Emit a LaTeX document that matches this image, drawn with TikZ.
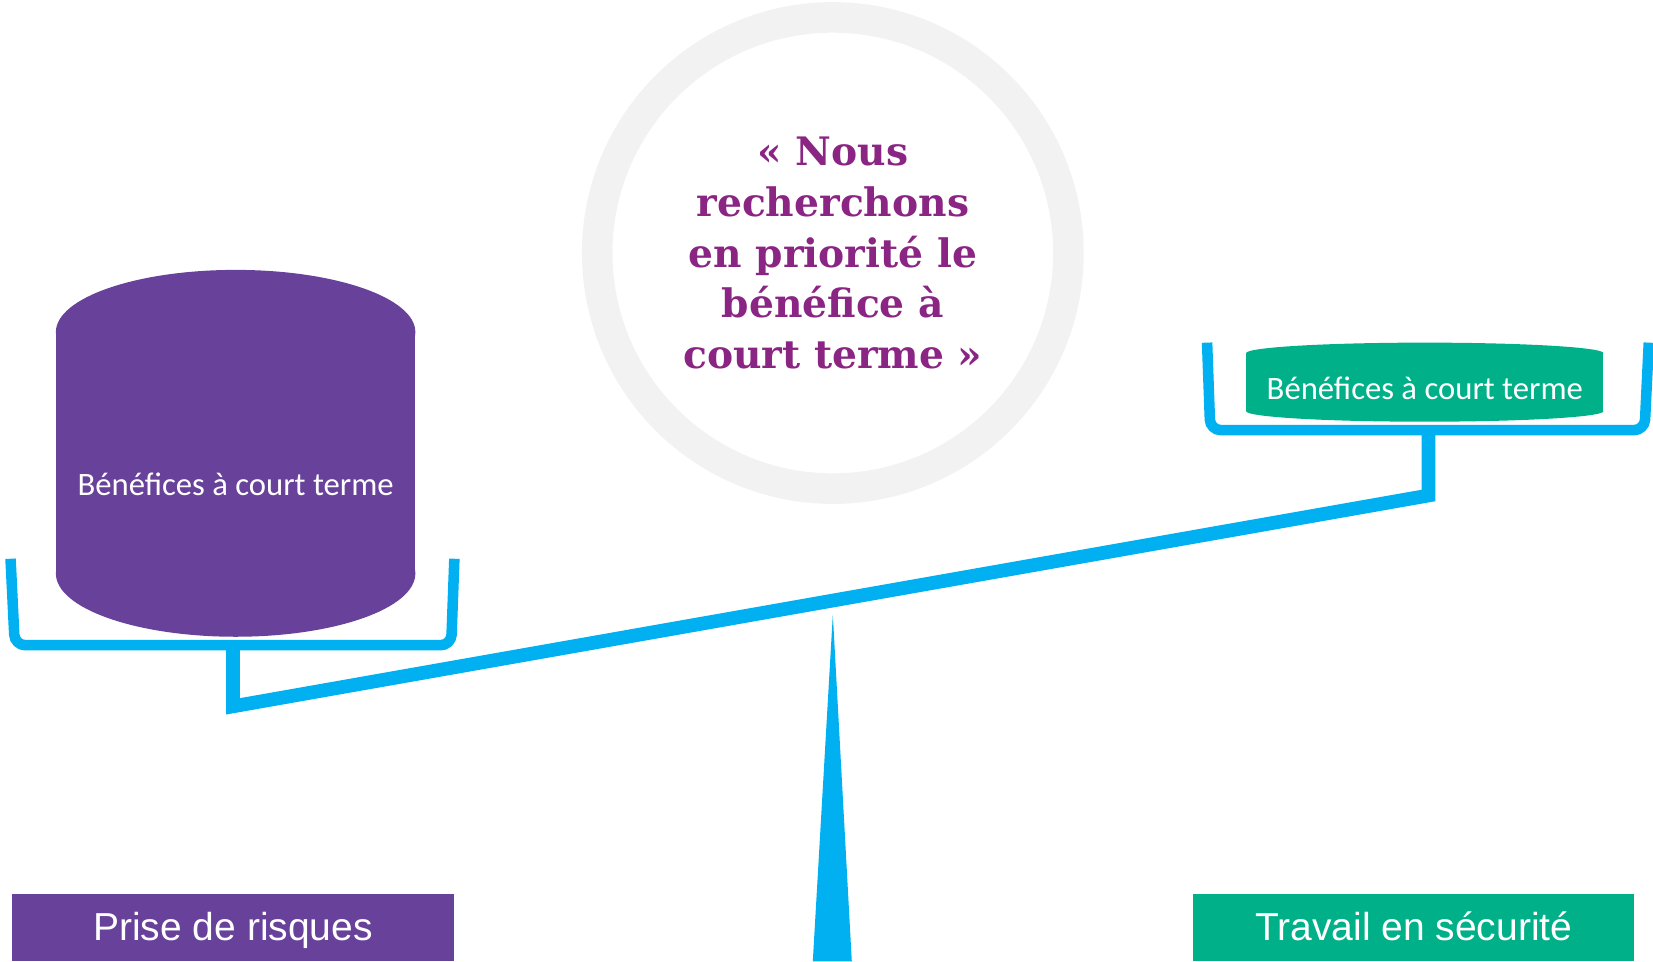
\documentclass[tikz,border=0pt]{standalone}
\usepackage{fontspec}
\setmainfont{Liberation Sans}
\newfontfamily\carlito{Carlito}
\newfontfamily\quotefont{DejaVu Serif}
\definecolor{ringgray}{HTML}{F2F2F2}
\definecolor{quotepurple}{HTML}{8B2583}
\definecolor{boxpurple}{HTML}{68419A}
\definecolor{boxgreen}{HTML}{00B088}
\definecolor{beamblue}{HTML}{00B0F0}
\begin{document}
\begin{tikzpicture}[x=0.5pt,y=-0.5pt,
  bracket/.style={draw=beamblue, line width=5pt, rounded corners=5pt, line cap=butt},
  beamline/.style={draw=beamblue, line width=6.5pt, line join=miter},
  cyltext/.style={text=white, font=\carlito\fontsize{15.5}{18}\selectfont, inner sep=0pt, anchor=base},
  labelbox/.style={minimum height=32pt, inner sep=0pt, draw=none},
  labeltext/.style={text=white, font=\fontsize{18.5}{22}\selectfont, inner sep=0pt, anchor=base}]
\useasboundingbox (0,0) rectangle (1568,912);

% ring
\draw[ringgray, line width=14.5pt] (790,240) circle[radius=223.5];

% quote
\node[text=quotepurple, font=\quotefont\bfseries\fontsize{18.6}{24}\selectfont,
      align=center, inner sep=0pt] (quote) at (790,240)
  {« Nous\\recherchons\\en priorité le\\bénéfice à\\court terme »};

% fulcrum
\coordinate (apex) at (790,583);
\coordinate (baseR) at (808,912);
\coordinate (baseL) at (771,912);
\fill[beamblue] (apex) -- (baseR) -- (baseL) -- cycle;

% left pan
\coordinate (lpTL) at (10,530);
\coordinate (lpBL) at (14,612);
\coordinate (lpBR) at (428,612);
\coordinate (lpTR) at (431,530);
\draw[bracket] (lpTL) -- (lpBL) -- (lpBR) -- (lpTR);

% right pan
\coordinate (rpTL) at (1145,325);
\coordinate (rpBL) at (1148,408);
\coordinate (rpBR) at (1560,408);
\coordinate (rpTR) at (1564,325);
\draw[bracket] (rpTL) -- (rpBL) -- (rpBR) -- (rpTR);

% stems and beam
\coordinate (lstemtop) at (221,612);
\coordinate (lstembot) at (221,670);
\coordinate (rstembot) at (1355,470);
\coordinate (rstemtop) at (1355,408);
\draw[beamline] (lstemtop) -- (lstembot) -- (rstembot) -- (rstemtop);

% left cylinder (purple)
\fill[boxpurple] (53,315) rectangle (394,544);
\fill[boxpurple] (223.5,315) ellipse[x radius=170.5, y radius=59];
\fill[boxpurple] (223.5,544) ellipse[x radius=170.5, y radius=60];
\node[cyltext] (lefttext) at (223.5,470) {Bénéfices à court terme};

% right cylinder (green)
\fill[boxgreen] (1182,335) rectangle (1521,390);
\fill[boxgreen] (1351.5,335) ellipse[x radius=169.5, y radius=10];
\fill[boxgreen] (1351.5,390) ellipse[x radius=169.5, y radius=10];
\node[cyltext] (righttext) at (1351.5,379) {Bénéfices à court terme};

% bottom labels
\node[labelbox, fill=boxpurple, minimum width=210pt] (riskbox) at (221,880) {};
\node[labeltext] (risk) at (221,892) {Prise de risques};
\node[labelbox, fill=boxgreen, minimum width=209pt] (safebox) at (1341,880) {};
\node[labeltext] (safe) at (1341,892) {Travail en sécurité};
\end{tikzpicture}
\end{document}
